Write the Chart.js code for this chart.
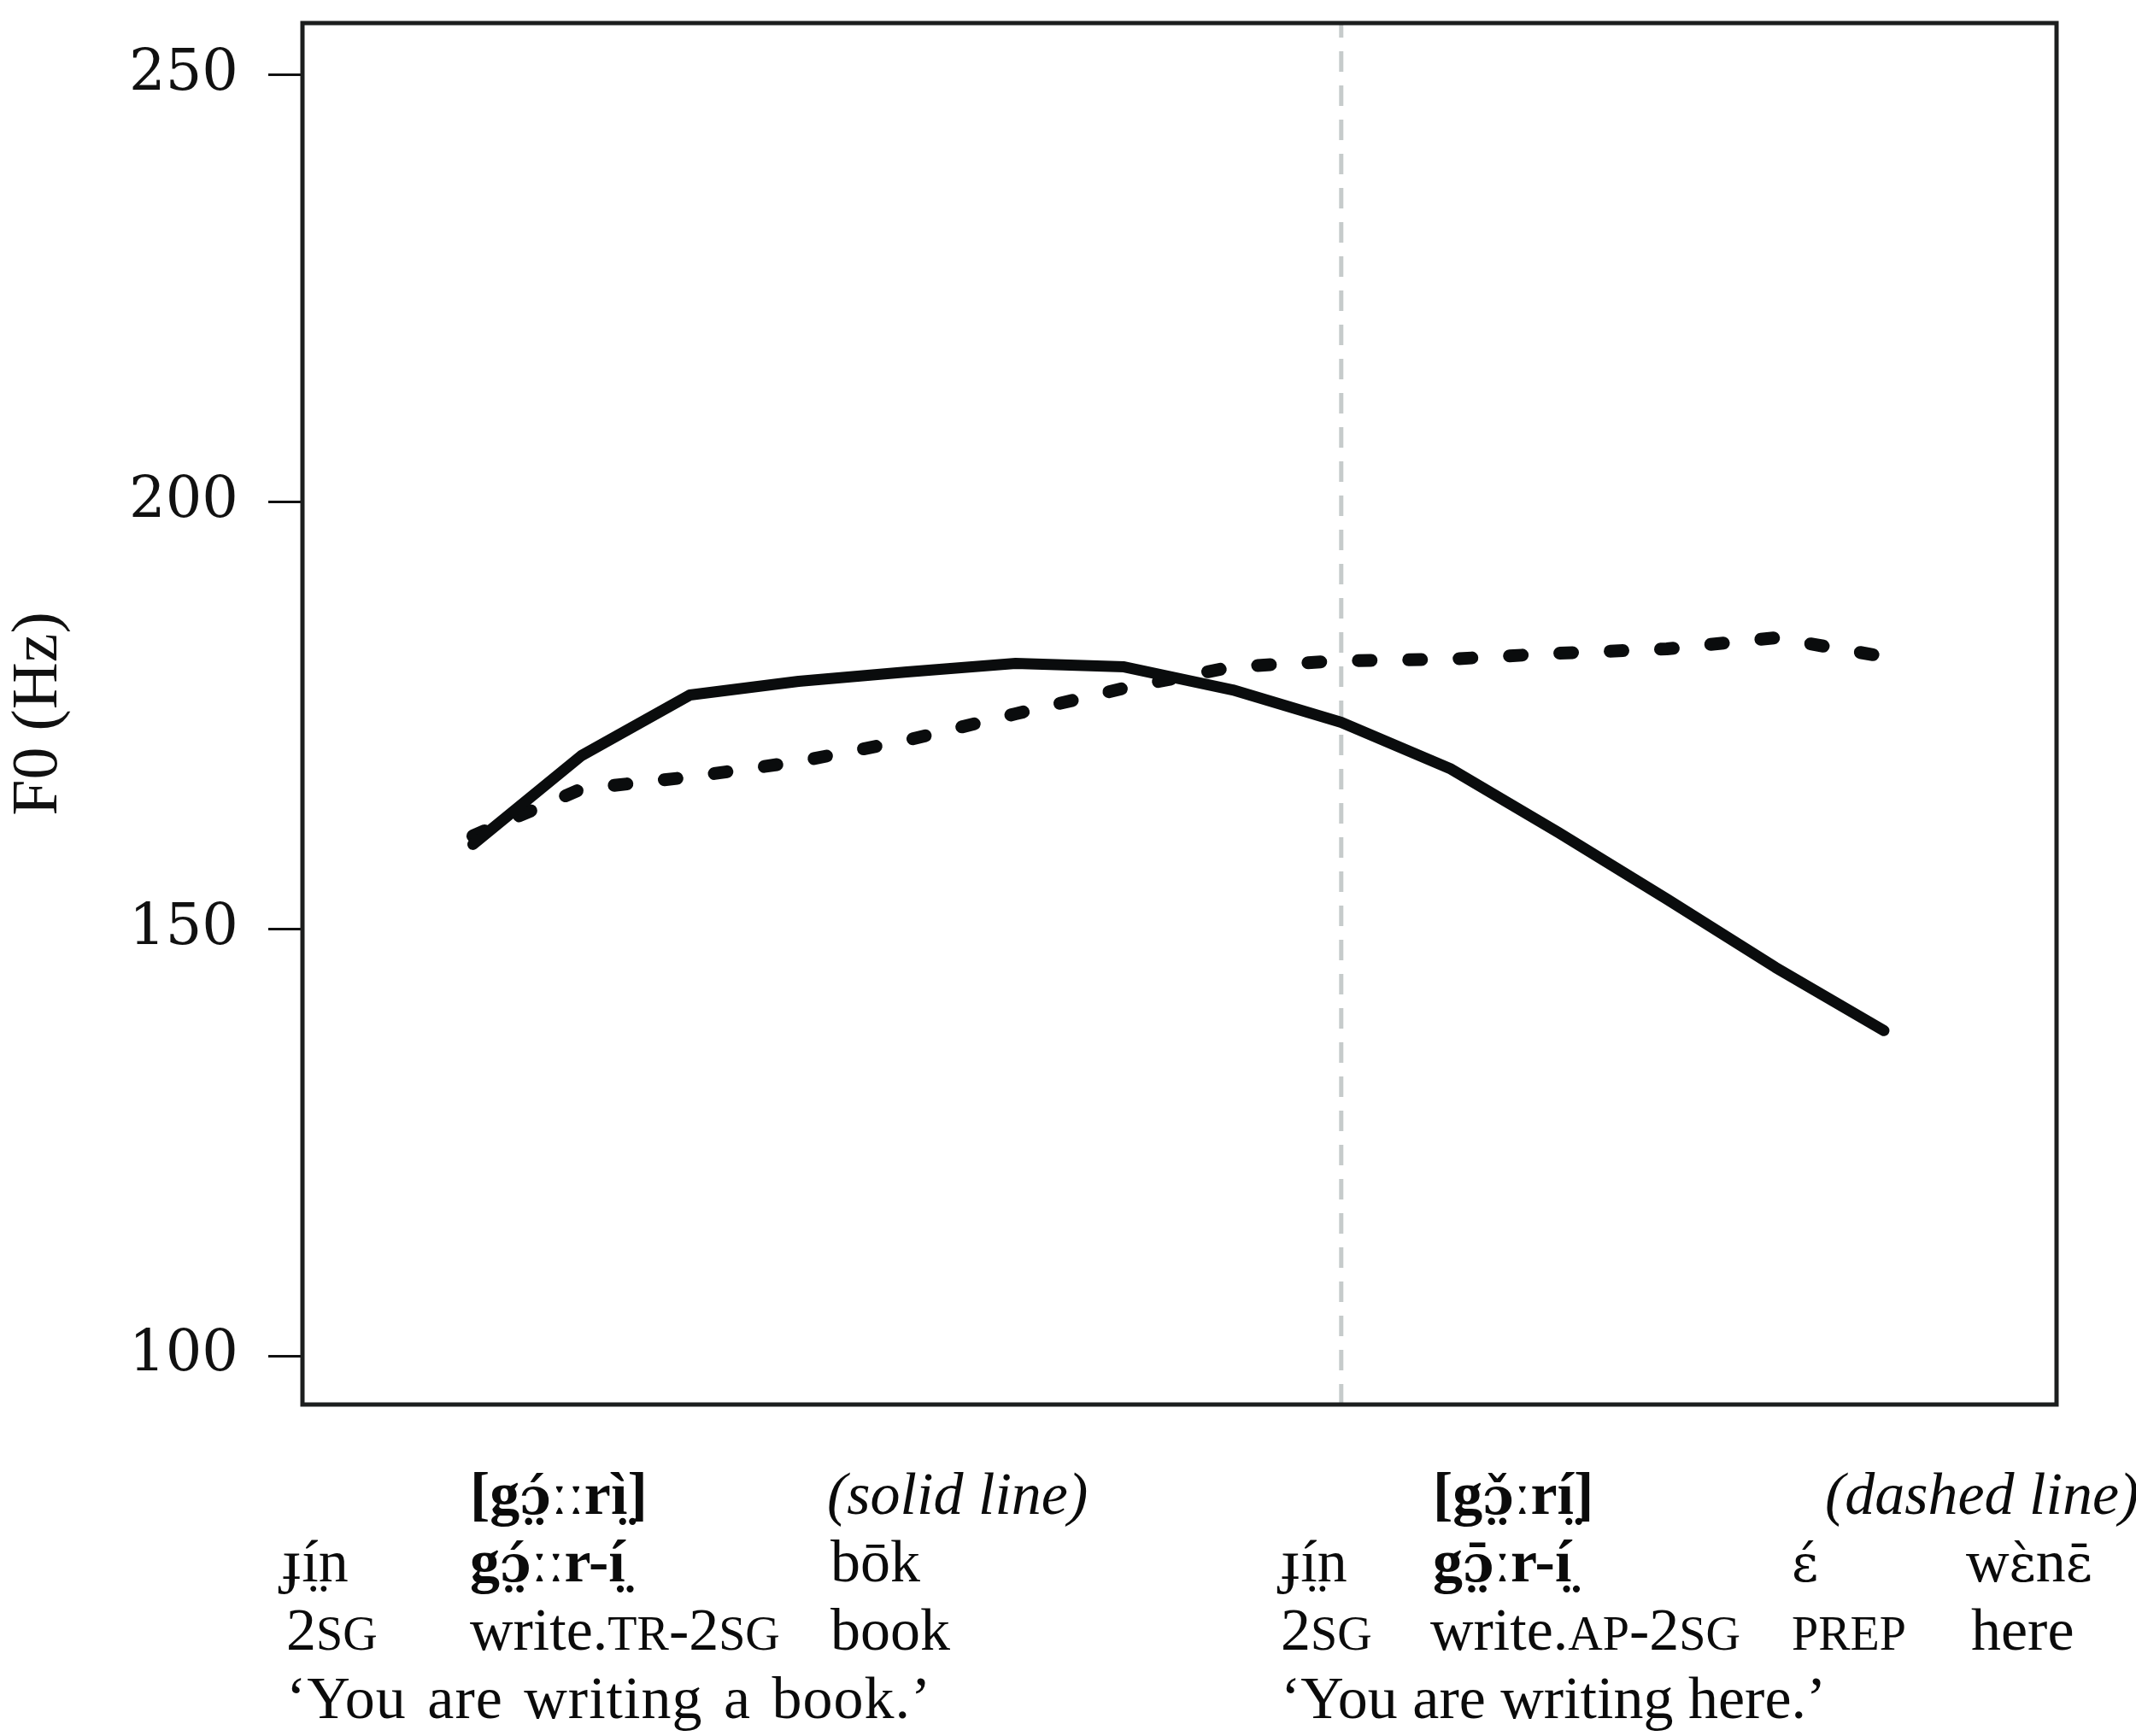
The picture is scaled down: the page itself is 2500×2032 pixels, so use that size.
<!DOCTYPE html>
<html>
<head>
<meta charset="utf-8">
<script src="https://cdn.jsdelivr.net/npm/chart.js@4.4.1/dist/chart.umd.min.js"></script>
<style>
  html, body { margin: 0; padding: 0; background: #fff; }
  #wrap { position: relative; width: 2500px; height: 2032px; overflow: hidden; }
  #f0chart { position: absolute; left: 0; top: 0; }
  .g { position: absolute; font-family: "Liberation Serif", "DejaVu Serif", serif; font-size: 70px; line-height: 1; color: #0b0b0b; white-space: nowrap; }
  .r1 { top: 1714px; } .r2 { top: 1793px; } .r3 { top: 1873px; } .r4 { top: 1953px; }
  .b { font-weight: bold; }
  .i { font-style: italic; }
  .sc { font-size: 0.8em; text-transform: uppercase; }
  .ipa { font-family: "DejaVu Serif", serif; font-size: 0.86em; }
</style>
</head>
<body>
<div id="wrap">
  <canvas id="f0chart" width="2500" height="2032"></canvas>

  <div class="g r1 b" style="left:550px">[g<span class="ipa">ɔ̤́</span>ːːrì̤]</div>
  <div class="g r1 i" style="left:968px">(solid line)</div>
  <div class="g r2" style="left:330px">ɟí̤n</div>
  <div class="g r2 b" style="left:550px">g<span class="ipa">ɔ̤́</span>ːːr-í̤</div>
  <div class="g r2" style="left:972px">bōk</div>
  <div class="g r3" style="left:335px">2<span class="sc">sg</span></div>
  <div class="g r3" style="left:550px">write.<span class="sc">tr</span>-2<span class="sc">sg</span></div>
  <div class="g r3" style="left:972px">book</div>
  <div class="g r4" style="left:335px; word-spacing:6px; letter-spacing:1px">‘You are writing a book.’</div>

  <div class="g r1 b" style="left:1677px">[g<span class="ipa">ɔ̤̌</span>ːrí̤]</div>
  <div class="g r1 i" style="left:2136px">(dashed line)</div>
  <div class="g r2" style="left:1499px">ɟí̤n</div>
  <div class="g r2 b" style="left:1677px">g<span class="ipa">ɔ̤̄</span>ːr-í̤</div>
  <div class="g r2" style="left:2097px"><span class="ipa">ɛ́</span></div>
  <div class="g r2" style="left:2301px">w<span class="ipa">ɛ̀</span>n<span class="ipa">ɛ̄</span></div>
  <div class="g r3" style="left:1499px">2<span class="sc">sg</span></div>
  <div class="g r3" style="left:1674px">write.<span class="sc">ap</span>-2<span class="sc">sg</span></div>
  <div class="g r3" style="left:2097px"><span class="sc">prep</span></div>
  <div class="g r3" style="left:2307px">here</div>
  <div class="g r4" style="left:1499px">‘You are writing here.’</div>
</div>

<script>
// normalised time points across the utterance
const timePoints = [1, 2, 3, 4, 5, 6, 7, 8, 9, 10, 11, 12, 13, 14];
// F0 (Hz), 'You are writing a book.' (solid)
const transitiveF0 = [159.9, 170.3, 177.4, 179.0, 180.1, 181.1, 180.7, 178.0, 174.2, 168.8, 161.3, 153.5, 145.5, 138.1];
// F0 (Hz), 'You are writing here.' (dashed)
const antipassiveF0 = [160.9, 166.4, 167.8, 169.6, 172.1, 175.2, 178.2, 180.7, 181.4, 181.6, 182.3, 182.8, 184.1, 181.9];
const yTickValues = [100, 150, 200, 250];
const yRange = [94.3, 256.1];
const xRange = [-0.57, 15.59];
const wordBoundary = 9;

function toPoints(values) {
    return timePoints.map((t, i) => ({ x: t, y: values[i] }));
}

const framePlugin = {
    id: "frame",
    afterDatasetsDraw(chart) {
        const a = chart.chartArea;
        const ctx = chart.ctx;
        ctx.save();
        ctx.strokeStyle = "#1c1e1e";
        ctx.lineWidth = 5;
        ctx.strokeRect(a.left, a.top, a.right - a.left, a.bottom - a.top);
        ctx.restore();
    }
};

new Chart(document.getElementById("f0chart"), {
    type: "line",
    data: {
        datasets: [
            {
                label: "solid line",
                data: toPoints(transitiveF0),
                borderColor: "#0a0c0d",
                borderWidth: 13,
                borderCapStyle: "round",
                borderJoinStyle: "round",
                pointRadius: 0,
                tension: 0,
                order: 1
            },
            {
                label: "dashed line",
                data: toPoints(antipassiveF0),
                borderColor: "#0a0c0d",
                borderWidth: 15,
                borderDash: [15, 44],
                borderCapStyle: "round",
                borderJoinStyle: "round",
                pointRadius: 0,
                tension: 0,
                order: 2
            },
            {
                label: "boundary",
                data: [{ x: wordBoundary, y: yRange[0] }, { x: wordBoundary, y: yRange[1] }],
                borderColor: "#c6cbcb",
                borderWidth: 5,
                borderDash: [24, 16],
                pointRadius: 0,
                order: 3
            }
        ]
    },
    options: {
        responsive: false,
        devicePixelRatio: 1,
        animation: false,
        layout: { padding: { left: 0, top: 27, right: 93, bottom: 388 } },
        plugins: {
            legend: { display: false },
            tooltip: { enabled: false }
        },
        scales: {
            x: {
                type: "linear",
                min: xRange[0],
                max: xRange[1],
                display: false
            },
            y: {
                type: "linear",
                min: yRange[0],
                max: yRange[1],
                afterBuildTicks: scale => {
                    scale.ticks = yTickValues.map(v => ({ value: v }));
                },
                afterFit: scale => {
                    scale.width = 354;
                    scale.paddingTop = 0;
                    scale.paddingBottom = 0;
                },
                border: { display: false },
                grid: {
                    drawOnChartArea: false,
                    drawTicks: true,
                    tickLength: 40,
                    tickWidth: 3,
                    tickColor: "#111"
                },
                ticks: {
                    padding: 35,
                    color: "#111",
                    font: { family: "DejaVu Serif", size: 67 }
                },
                title: {
                    display: true,
                    text: "F0 (Hz)",
                    color: "#111",
                    padding: 0,
                    font: { family: "Liberation Serif", size: 76 }
                }
            }
        }
    },
    plugins: [framePlugin]
});
</script>
</body>
</html>
